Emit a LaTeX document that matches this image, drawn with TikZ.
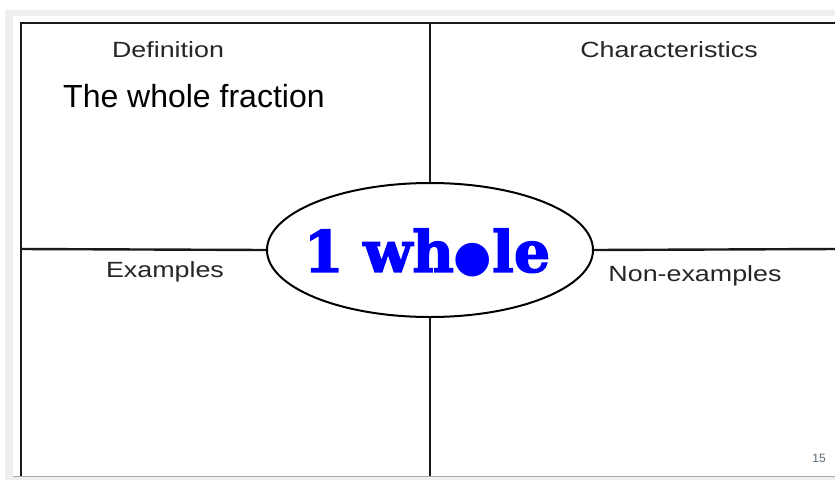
\documentclass[tikz,border=0pt]{standalone}
\usepackage{fontspec}
\usepackage{graphicx}
\usetikzlibrary{shapes.geometric}
\setmainfont{Liberation Sans}
\newfontfamily\slabfont[BoldFeatures={FakeBold=2.5}]{DejaVu Serif}
\newfontfamily\dotfont{DejaVu Sans}
\definecolor{pagegray}{HTML}{EEEEEE}
\definecolor{wordblue}{HTML}{0000FF}
\definecolor{numgray}{HTML}{5A6A7A}
\begin{document}
\begin{tikzpicture}[x=1pt,y=-1pt,
    frame/.style={line width=2.4pt,black!90},
    head/.style={inner sep=0pt,font=\fontsize{22}{24}\selectfont,text=black!85},
    every node/.style={inner sep=0pt}]
  \useasboundingbox (0,0) rectangle (835,480);
  \fill[pagegray] (5,10) rectangle (835,480);
  \fill[white] (13,16) rectangle (835,476);
  \draw[gray!70,line width=1pt] (13,476.5) -- (835,476.5);
  % corner points of the frame
  \coordinate (tl) at (21,23);
  \coordinate (tr) at (836,23);
  \coordinate (bl) at (21,476);
  \coordinate (tm) at (430,23);
  \coordinate (bm) at (430,476);
  \coordinate (ml) at (21,249);
  \coordinate (mr) at (836,249);
  % centre word
  \node (c) [ellipse,draw,line width=2pt,minimum width=326pt,minimum height=134pt] at (430,250) {};
  \node (w) at (427,253) {\textcolor{wordblue}{\slabfont\bfseries\fontsize{57}{59}\selectfont 1 wh{\dotfont\fontsize{44}{46}\selectfont ●}le}};
  \draw[frame] (tr)--(tl)--(bl);
  \draw[frame] (tm)--(c.north);
  \draw[frame] (c.south)--(bm);
  \draw[frame] (ml)--(c.west);
  \draw[frame] (c.east)--(mr);
  % headings
  \node (def) [head] at (168,50) {\scalebox{1.22}[1]{Definition}};
  \node (cha) [head] at (669,50) {\scalebox{1.22}[1]{Characteristics}};
  \node (ex) [head] at (165,272) {\scalebox{1.22}[1]{Examples}};
  \node (nex) [head] at (695,276) {\scalebox{1.22}[1]{Non-examples}};
  \node (txt) [anchor=west,font=\fontsize{32}{34}\selectfont] at (63,96) {The whole fraction};
  \node (pg) [font=\fontsize{12}{13}\selectfont,text=numgray] at (819,458) {15};
\end{tikzpicture}
\end{document}
